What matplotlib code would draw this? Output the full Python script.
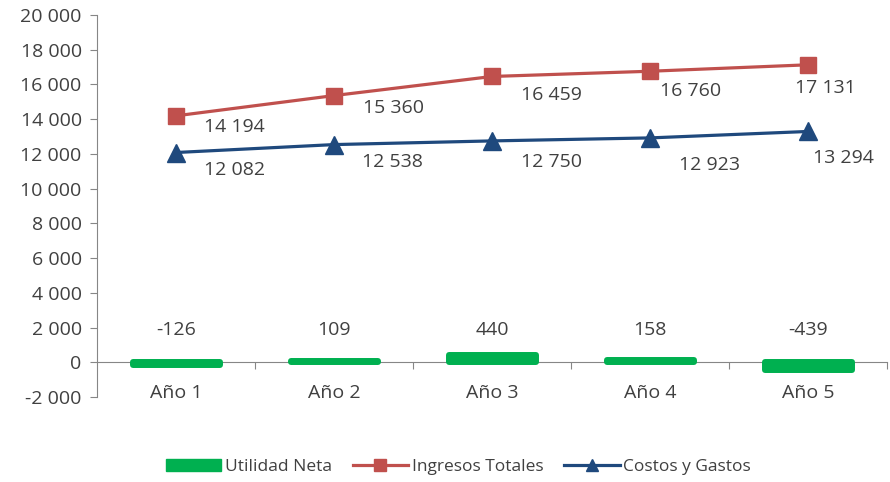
import numpy as np
import matplotlib; matplotlib.use('Agg')
import matplotlib.pyplot as plt
from matplotlib.lines import Line2D
from matplotlib.patches import Patch

plt.rcParams['font.family'] = ['Open Sans', 'DejaVu Sans']

years = ['Año 1', 'Año 2', 'Año 3', 'Año 4', 'Año 5']
utilidad = [-126, 109, 440, 158, -439]
ingresos = [14194, 15360, 16459, 16760, 17131]
costos = [12082, 12538, 12750, 12923, 13294]

GREEN, RED, BLUE = '#00B050', '#C0504D', '#1F497D'
TXT = '#404040'
AX = '#868686'
FS = 14

def fmt(v):
    return f'{v:,.0f}'.replace(',', ' ')

x = np.arange(1, len(years) + 1)
fig = plt.figure(figsize=(8.9, 4.82), dpi=100)
ax = fig.add_axes([0.109, 0.176, 0.888, 0.793])

ax.bar(x, utilidad, width=0.55, color=GREEN, edgecolor=GREEN, linewidth=4.3,
       joinstyle='round', zorder=2, label='Utilidad Neta')
ax.plot(x, ingresos, color=RED, lw=2.3, marker='s', ms=12, zorder=3)
ax.plot(x, costos, color=BLUE, lw=2.3, marker='^', ms=13, zorder=3)

# bar value labels sit up near the 2 000 line
for xi, v in zip(x, utilidad):
    ax.text(xi, 1850, fmt(v), ha='center', va='center', fontsize=FS, color=TXT)

# hand-placed offsets (pixels) for the line labels
red_off = [(58, -11), (59, -12), (59, -19), (40, -20), (17, -23)]
blue_off = [(59, -17), (58, -17), (59, -21), (59, -27), (35, -27)]
for xi, v, o in zip(x, ingresos, red_off):
    ax.annotate(fmt(v), (xi, v), xytext=(o[0] * 0.72, o[1] * 0.72), textcoords='offset points',
                ha='center', va='center', fontsize=FS, color=TXT)
for xi, v, o in zip(x, costos, blue_off):
    ax.annotate(fmt(v), (xi, v), xytext=(o[0] * 0.72, o[1] * 0.72), textcoords='offset points',
                ha='center', va='center', fontsize=FS, color=TXT)

ax.set_ylim(-2000, 20000)
ax.set_yticks(np.arange(-2000, 20001, 2000))
ax.set_yticklabels([fmt(v) for v in np.arange(-2000, 20001, 2000)])
ax.set_xlim(0.5, 5.5)

for s in ['top', 'right']:
    ax.spines[s].set_visible(False)
ax.spines['left'].set_color(AX)
ax.spines['bottom'].set_color(AX)
ax.spines['bottom'].set_position(('data', 0))
ax.spines['bottom'].set_zorder(1)

ax.set_xticks(np.arange(1.5, 5.6, 1))
ax.set_xticklabels([])
ax.set_xticks(x, minor=True)
ax.set_xticklabels(years, minor=True)
ax.tick_params(axis='x', which='major', direction='out', length=5, color=AX)
ax.tick_params(axis='x', which='minor', length=0, pad=15.5, labelsize=FS, labelcolor=TXT)
ax.tick_params(axis='y', direction='out', length=5, color=AX, labelsize=FS, labelcolor=TXT, pad=6)

handles = [Patch(facecolor=GREEN, edgecolor=GREEN, label='Utilidad Neta'),
           Line2D([], [], color=RED, lw=2.3, marker='s', ms=9, label='Ingresos Totales'),
           Line2D([], [], color=BLUE, lw=2.3, marker='^', ms=9, label='Costos y Gastos')]
fig.legend(handles=handles, loc='center', bbox_to_anchor=(0.515, 0.031), ncol=3, frameon=False,
           fontsize=12.5, labelcolor=TXT, handlelength=3.2, handletextpad=0.2, columnspacing=1.2)

fig.savefig('out.png', dpi=100)
